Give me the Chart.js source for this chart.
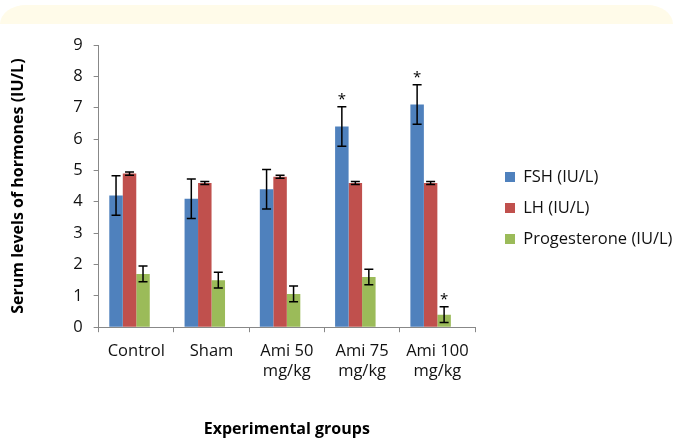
<!DOCTYPE html>
<html>
<head>
<meta charset="utf-8">
<script src="https://cdn.jsdelivr.net/npm/chart.js@4"></script>
<style>
  html, body { margin: 0; padding: 0; background: #fff; }
  #wrap { position: relative; width: 673px; height: 439px; }
  #band { position: absolute; left: 0; top: 5px; width: 673px; height: 19px;
          background: #fffbe9; border-radius: 26px 26px 0 0 / 19px 19px 0 0; }
  canvas { position: absolute; left: 0; top: 0; }
</style>
</head>
<body>
<div id="wrap">
  <div id="band"></div>
  <canvas id="chart" width="673" height="439"></canvas>
</div>
<script>
const groups = [['Control'], ['Sham'], ['Ami 50', 'mg/kg'], ['Ami 75', 'mg/kg'], ['Ami 100', 'mg/kg']];
const fsh = [4.2, 4.1, 4.4, 6.4, 7.1];
const lh = [4.9, 4.6, 4.8, 4.6, 4.6];
const progesterone = [1.7, 1.5, 1.06, 1.6, 0.4];
const fshErr = [0.63, 0.63, 0.63, 0.63, 0.63];
const lhErr = [0.05, 0.05, 0.05, 0.05, 0.05];
const progErr = [0.25, 0.25, 0.25, 0.25, 0.25];
const fshStar = [false, false, false, true, true];
const lhStar = [false, false, false, false, false];
const progStar = [false, false, false, false, true];
const yTicks = [0, 1, 2, 3, 4, 5, 6, 7, 8, 9];

const FONT = "'Open Sans', sans-serif";

// error bars and significance stars drawn from the arrays above
const errorBars = {
  id: 'errorBars',
  afterDatasetsDraw(chart) {
    const ctx = chart.ctx;
    const y = chart.scales.y;
    chart.data.datasets.forEach((ds, i) => {
      if (!ds.err) return;
      const meta = chart.getDatasetMeta(i);
      meta.data.forEach((bar, j) => {
        const v = ds.data[j];
        const top = y.getPixelForValue(v + ds.err[j]);
        const bot = y.getPixelForValue(v - ds.err[j]);
        ctx.save();
        ctx.strokeStyle = '#000';
        ctx.lineWidth = 1.5;
        ctx.beginPath();
        ctx.moveTo(bar.x, top); ctx.lineTo(bar.x, bot);
        ctx.moveTo(bar.x - 4.5, top); ctx.lineTo(bar.x + 4.5, top);
        ctx.moveTo(bar.x - 4.5, bot); ctx.lineTo(bar.x + 4.5, bot);
        ctx.stroke();
        if (ds.star[j]) {
          ctx.fillStyle = '#000';
          ctx.font = '15px ' + FONT;
          ctx.textAlign = 'center';
          ctx.textBaseline = 'middle';
          ctx.fillText('*', bar.x, top - 7);
        }
        ctx.restore();
      });
    });
  }
};

// nudge the legend column to where it sits in the figure
const legendNudge = {
  id: 'legendNudge',
  afterLayout(chart) {
    const lg = chart.legend;
    lg.left += 15.5; lg.right += 15.5;
    lg.top -= 34; lg.bottom -= 34;
  }
};

new Chart(document.getElementById('chart'), {
  type: 'bar',
  data: {
    labels: groups,
    datasets: [
      { label: 'FSH (IU/L)', data: fsh, err: fshErr, star: fshStar, backgroundColor: '#4f81bd' },
      { label: 'LH (IU/L)', data: lh, err: lhErr, star: lhStar, backgroundColor: '#c0504d' },
      { label: 'Progesterone (IU/L)', data: progesterone, err: progErr, star: progStar, backgroundColor: '#9bbb59' },
      { label: '', data: [] }
    ]
  },
  options: {
    responsive: false,
    animation: false,
    devicePixelRatio: 1,
    categoryPercentage: 0.717,
    barPercentage: 1,
    layout: { padding: { left: 8, right: 13, top: 45, bottom: 0 } },
    plugins: {
      tooltip: { enabled: false },
      legend: {
        position: 'right',
        maxWidth: 185,
        labels: {
          boxWidth: 10, boxHeight: 10, padding: 14.5, color: '#111',
          font: { family: FONT, size: 16.5 },
          filter: item => item.text !== ''
        }
      }
    },
    scales: {
      x: {
        grid: { drawOnChartArea: false, tickLength: 5, color: '#888' },
        border: { color: '#888' },
        ticks: { color: '#111', padding: 9, maxRotation: 0, font: { family: FONT, size: 16.5 } },
        title: { display: true, text: 'Experimental groups', color: '#000',
                 font: { family: FONT, size: 16, weight: 'bold' }, padding: { top: 30, bottom: 0 } }
      },
      y: {
        min: 0, max: 9,
        afterBuildTicks: axis => { axis.ticks = yTicks.map(v => ({ value: v })); },
        grid: { drawOnChartArea: false, tickLength: 5, color: '#888' },
        border: { color: '#888' },
        ticks: { color: '#111', padding: 11, font: { family: FONT, size: 16.5 } },
        title: { display: true, text: 'Serum levels of hormones (IU/L)', color: '#000',
                 font: { family: FONT, size: 16, weight: 'bold' }, padding: { top: 1, bottom: 34 } }
      }
    }
  },
  plugins: [errorBars, legendNudge]
});
</script>
</body>
</html>
